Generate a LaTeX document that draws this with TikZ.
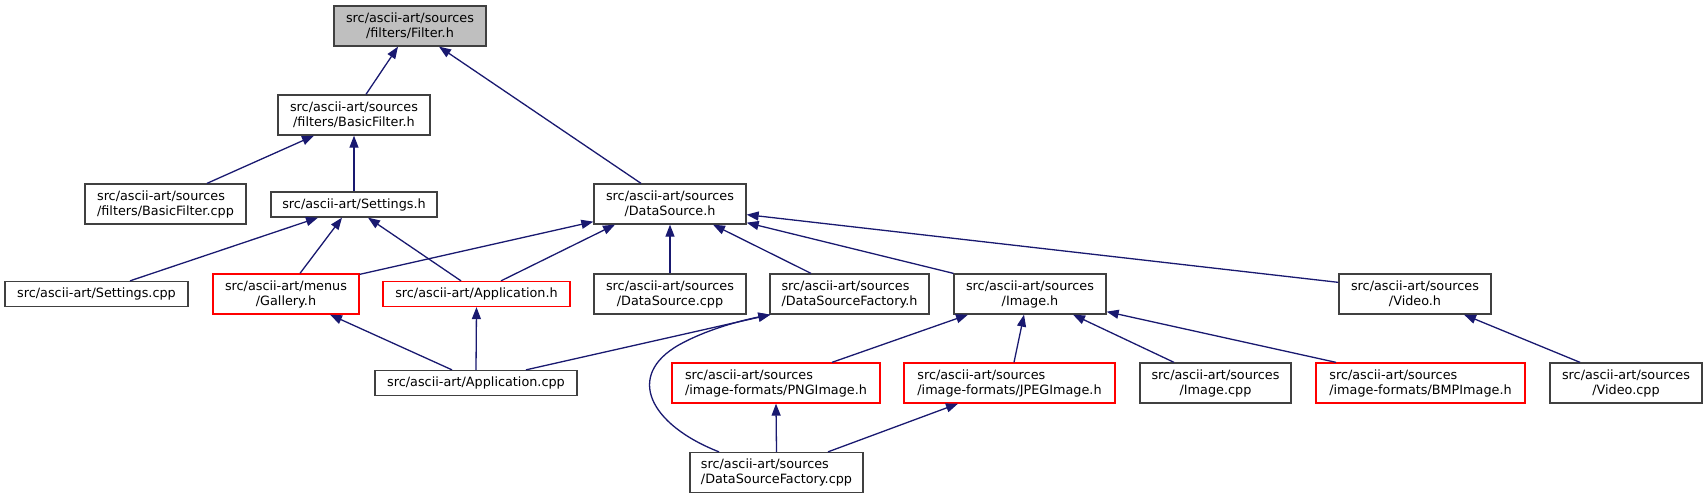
\documentclass[tikz,border=0pt]{standalone}
\usepackage{fontspec}
\setmainfont{DejaVu Sans}
\usetikzlibrary{arrows.meta}
\definecolor{edgeblue}{HTML}{191970}
\definecolor{boxgray}{HTML}{404040}
\definecolor{rootfill}{HTML}{BFBFBF}
\tikzset{
  filebox/.style={draw=boxgray, line width=1.3pt, rectangle, inner sep=0pt, align=center,
    font=\fontsize{12.8}{15}\selectfont, text=black},
  leftbox/.style={filebox, align=left},
  redbox/.style={draw=red},
  rootbox/.style={fill=rootfill},
  dep/.style={draw=edgeblue, line width=1.3pt, -{Triangle[length=12pt,width=9pt]}},
}
\begin{document}
\begin{tikzpicture}[x=1pt,y=-1pt]
\useasboundingbox (0,0) rectangle (1707,499);
% row 0
\node[filebox, rootbox, minimum width=152pt, minimum height=40pt] (filter) at (410,26) {src/ascii-art/sources\\/filters/Filter.h};
% row 1
\node[filebox, minimum width=152pt, minimum height=40pt] (basich) at (354,115) {src/ascii-art/sources\\/filters/BasicFilter.h};
% row 2
\node[leftbox, minimum width=161pt, minimum height=40pt] (basiccpp) at (165.5,204) {src/ascii-art/sources\\/filters/BasicFilter.cpp};
\node[filebox, minimum width=166pt, minimum height=25pt] (settingsh) at (354,204.5) {src/ascii-art/Settings.h};
\node[filebox, minimum width=152pt, minimum height=40pt] (dsh) at (670,204) {src/ascii-art/sources\\/DataSource.h};
% row 3
\node[filebox, minimum width=183pt, minimum height=25pt] (settingscpp) at (96.5,294) {src/ascii-art/Settings.cpp};
\node[filebox, redbox, minimum width=146pt, minimum height=40pt] (gallery) at (286,294) {src/ascii-art/menus\\/Gallery.h};
\node[filebox, redbox, minimum width=187pt, minimum height=25pt] (apph) at (476.5,294) {src/ascii-art/Application.h};
\node[filebox, minimum width=152pt, minimum height=40pt] (dscpp) at (670,294) {src/ascii-art/sources\\/DataSource.cpp};
\node[leftbox, minimum width=159pt, minimum height=40pt] (dsfh) at (849.5,294) {src/ascii-art/sources\\/DataSourceFactory.h};
\node[filebox, minimum width=152pt, minimum height=40pt] (imageh) at (1030,294) {src/ascii-art/sources\\/Image.h};
\node[filebox, minimum width=152pt, minimum height=40pt] (videoh) at (1415,294) {src/ascii-art/sources\\/Video.h};
% row 4
\node[filebox, minimum width=202pt, minimum height=25pt] (appcpp) at (476,383) {src/ascii-art/Application.cpp};
\node[leftbox, redbox, minimum width=208pt, minimum height=40pt] (png) at (776,383) {src/ascii-art/sources\\/image-formats/PNGImage.h};
\node[leftbox, redbox, minimum width=211pt, minimum height=40pt] (jpeg) at (1009.5,383) {src/ascii-art/sources\\/image-formats/JPEGImage.h};
\node[filebox, minimum width=151pt, minimum height=40pt] (imagecpp) at (1215.5,383) {src/ascii-art/sources\\/Image.cpp};
\node[leftbox, redbox, minimum width=209pt, minimum height=40pt] (bmp) at (1420.5,383) {src/ascii-art/sources\\/image-formats/BMPImage.h};
\node[filebox, minimum width=152pt, minimum height=40pt] (videocpp) at (1626,383) {src/ascii-art/sources\\/Video.cpp};
% row 5
\node[leftbox, minimum width=173pt, minimum height=40pt] (dsfcpp) at (776.5,472.5) {src/ascii-art/sources\\/DataSourceFactory.cpp};

% edges
\draw[dep] ([xshift=12pt]basich.north) -- ([xshift=-12pt]filter.south);
\draw[dep] ([xshift=-29pt]dsh.north) -- ([xshift=29pt]filter.south);
\draw[dep] ([xshift=41.5pt]basiccpp.north) -- ([xshift=-40pt]basich.south);
\draw[dep] (settingsh.north) -- (basich.south);
\draw[dep] ([xshift=33.5pt]settingscpp.north) -- ([xshift=-36pt]settingsh.south);
\draw[dep] ([xshift=14pt]gallery.north) -- ([xshift=-12pt]settingsh.south);
\draw[dep] ([xshift=-15.5pt]apph.north) -- ([xshift=14pt]settingsh.south);
\draw[dep] ([yshift=-1pt]gallery.north east) -- ([yshift=3pt]dsh.south west);
\draw[dep] ([xshift=24.5pt]apph.north) -- ([xshift=-55pt]dsh.south);
\draw[dep] (dscpp.north) -- (dsh.south);
\draw[dep] ([xshift=-38.5pt]dsfh.north) -- ([xshift=43pt]dsh.south);
\draw[dep] (imageh.north west) -- ([yshift=2pt]dsh.south east);
\draw[dep] ([yshift=-9pt]videoh.north west) -- ([yshift=10pt]dsh.south east);
\draw[dep] ([xshift=-24pt]appcpp.north) -- ([xshift=44pt]gallery.south);
\draw[dep] (appcpp.north) -- (apph.south);
\draw[dep] ([xshift=50pt]appcpp.north) -- ([xshift=1pt]dsfh.south west);
\draw[dep] ([xshift=-57.5pt]dsfcpp.north) .. controls +(-69,-27) and +(-55,31) .. ([xshift=-90pt,yshift=-30pt]dsfh.south west)
  .. controls +(27,-15) and +(-30,6) .. ([xshift=1pt]dsfh.south west);
\draw[dep] ([xshift=56pt]png.north) -- ([xshift=-62pt]imageh.south);
\draw[dep] ([xshift=4.5pt]jpeg.north) -- ([xshift=-6pt]imageh.south);
\draw[dep] ([xshift=-41.5pt]imagecpp.north) -- ([xshift=43pt]imageh.south);
\draw[dep] ([xshift=-84.5pt]bmp.north) -- ([yshift=3pt]imageh.south east);
\draw[dep] ([xshift=-46pt]videocpp.north) -- ([xshift=49pt]videoh.south);
\draw[dep] (dsfcpp.north) -- (png.south);
\draw[dep] ([xshift=51.5pt]dsfcpp.north) -- ([xshift=-51.5pt]jpeg.south);
\end{tikzpicture}
\end{document}
